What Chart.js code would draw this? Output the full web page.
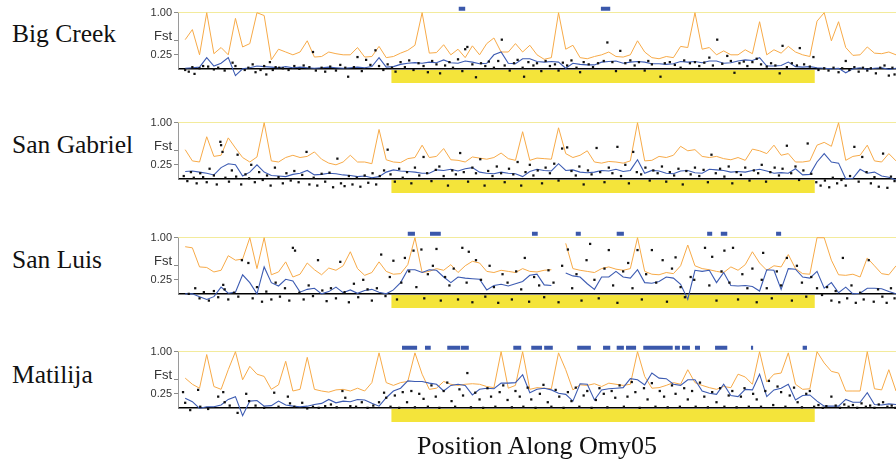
<!DOCTYPE html>
<html>
<head>
<meta charset="utf-8">
<script src="https://cdn.jsdelivr.net/npm/chart.js@4.4.1/dist/chart.umd.min.js"></script>
<style>
  html, body { margin: 0; padding: 0; background: #fff; }
  body { width: 896px; height: 468px; position: relative; overflow: hidden; }
  .panel { position: absolute; left: 0; width: 900px; height: 98px; }
  .name { position: absolute; left: 12px; font-family: "Liberation Serif", "DejaVu Serif", serif; font-size: 25.5px; line-height: 28px; color: #111; white-space: nowrap; }
  #xtitle { position: absolute; left: 537px; top: 431px; transform: translateX(-50%); font-family: "Liberation Serif", "DejaVu Serif", serif; font-size: 26px; line-height: 30px; color: #111; white-space: nowrap; }
</style>
</head>
<body>
<div class="name" style="top:20px">Big Creek</div>
<div class="name" style="top:131px">San Gabriel</div>
<div class="name" style="top:246px">San Luis</div>
<div class="name" style="top:361px">Matilija</div>
<div class="panel" style="top:-4px"><canvas id="p1"></canvas></div>
<div class="panel" style="top:106px"><canvas id="p2"></canvas></div>
<div class="panel" style="top:221px"><canvas id="p3"></canvas></div>
<div class="panel" style="top:335px"><canvas id="p4"></canvas></div>
<div id="xtitle">Position Along Omy05</div>
<script>
// window positions along the chromosome (arbitrary units 0-100)
const positions = Array.from({ length: 101 }, (_, i) => i);

// shaded inversion region and outlier-window level
const regionStart = 29.7, regionEnd = 88.7;
const regionTop = -0.02, regionBottom = -0.25;
const outlierLevel = 1.07;

// tick labels
const tickValues = [0, 0.25, 0.5, 0.58, 1];
const tickText = { 0.25: "0.25", 0.58: "Fst", 1: "1.00" };

// ---- Big Creek ----
const bigCreekOrange = [null,0.52,0.7,0.25,1.0,0.27,0.38,0.25,0.9,0.39,
  0.45,1.0,0.95,0.16,0.35,0.3,0.25,0.3,0.5,0.21,
  0.22,0.3,0.27,0.25,0.25,0.38,0.21,0.22,0.4,0.2,
  0.22,0.28,0.33,0.42,1.0,0.28,0.29,0.43,0.25,0.35,
  0.2,0.41,0.25,0.45,0.55,0.3,0.3,0.45,0.3,0.42,
  0.25,0.17,0.2,1.0,0.35,0.42,0.2,0.18,0.22,0.25,
  0.3,0.22,0.21,0.25,0.5,0.3,0.2,0.18,0.22,0.2,
  0.4,0.38,1.0,0.35,0.38,0.25,0.32,0.25,0.25,0.34,
  0.27,0.84,0.25,0.34,0.28,0.4,0.3,0.25,0.22,0.85,
  1.0,0.5,0.84,0.38,0.24,0.25,0.39,0.28,0.27,0.3,
  0.25];
const bigCreekBlue = [null,0.01,0.02,0.03,0.2,0.05,0.1,0.2,-0.12,0.0,
  0.02,0.05,0.04,0.03,0.02,0.04,0.02,0.03,0.02,0.01,
  0.02,0.03,0.02,0.01,0.02,0.03,0.02,0.04,0.2,0.03,
  0.04,0.08,0.1,0.11,0.1,0.12,0.11,0.16,0.11,0.1,
  0.14,0.12,0.09,0.1,0.25,0.3,0.1,0.09,0.18,0.18,
  0.13,0.12,0.13,0.12,0.01,0.1,0.08,0.07,0.07,0.12,
  0.13,0.14,0.1,0.12,0.13,0.12,0.09,0.09,0.08,0.09,
  0.13,0.12,0.13,0.11,0.14,0.14,0.1,0.11,0.14,0.16,
  0.15,0.2,0.05,0.05,0.06,0.12,0.04,0.03,0.04,0.02,
  0.01,0.0,0.01,-0.07,0.0,0.02,-0.01,0.01,0.02,-0.01,
  0.01];
const bigCreekSnps = [[1,-0.02],[1.5,-0.05],[2,0.03],[2.3,-0.09],[3,0.01],[3.5,0.05],[4.2,0.04],[5,-0.01],[5.6,0.02],[6.5,-0.03],
  [7.6,0.11],[8,0.05],[9.3,-0.02],[9.8,0.02],[10.4,0.08],[10.8,-0.06],[11.5,-0.02],[12,0.05],[12.3,-0.1],[12.8,0.12],
  [13.2,-0.02],[13.6,0.03],[14.1,0.02],[14.6,0.01],[15.4,-0.02],[16.2,0.05],[16.9,0.0],[17.5,0.06],[18.3,0.03],[18.8,0.3],
  [19.2,-0.03],[20,0.02],[20.5,-0.05],[21.2,0.04],[22,-0.03],[22.6,0.07],[23.3,0.02],[23.7,-0.14],[24.5,0.03],[25,0.21],
  [25.6,-0.04],[26.2,0.16],[26.8,0.07],[27.5,0.33],[28,0.05],[28.6,-0.02],[29.2,0.08],[29.8,0.02],[30.3,-0.05],[31,0.12],
  [31.6,0.03],[32.2,0.15],[32.8,-0.02],[33.5,0.1],[34.2,0.05],[34.8,-0.06],[35.4,0.14],[36,0.08],[36.5,-0.08],[37.2,0.06],
  [37.8,0.12],[38.3,0.02],[39,0.17],[39.6,-0.04],[40,0.35],[40.3,0.39],[41,0.08],[41.5,-0.15],[42.2,0.1],[42.8,0.05],
  [43.3,0.13],[44,0.02],[44.6,0.14],[45.1,0.52],[45.5,0.06],[46.2,-0.03],[46.8,0.1],[47.3,0.16],[48,0.02],[48.2,-0.14],
  [48.8,0.12],[49.5,0.06],[50,0.1],[50.6,-0.04],[51.2,0.14],[51.8,0.05],[52.5,0.08],[53,-0.03],[53.6,0.11],[54.2,0.06],
  [54.8,0.15],[55.5,0.02],[56,-0.06],[56.5,0.12],[57.2,0.08],[57.8,0.03],[58.5,0.1],[59.3,0.14],[59.8,0.47],[60.5,0.12],
  [61,-0.04],[61.6,0.32],[62.3,0.1],[63,0.15],[63.6,0.06],[64.2,0.12],[65,-0.03],[65.5,0.14],[66,0.08],[67.2,-0.14],
  [67.8,0.1],[68.5,0.12],[69.2,0.07],[70,0.02],[70.5,0.15],[71.3,0.1],[72,0.12],[72.6,0.05],[73.3,0.11],[74,0.2],
  [74.5,0.06],[75.1,0.52],[75.8,0.09],[76.5,0.23],[77,0.14],[77.5,-0.07],[78.2,0.1],[78.8,0.13],[79.3,0.05],[80,0.12],
  [80.6,0.18],[81.2,0.08],[82,0.04],[82.6,0.1],[83.2,0.06],[83.8,-0.08],[84.2,0.41],[84.8,0.03],[85.5,0.1],[86.2,0.06],
  [86.6,0.37],[87.2,0.08],[88,0.04],[88.5,0.21],[89.2,-0.02],[90,0.01],[90.6,-0.03],[91.3,0.02],[92,-0.06],[92.5,0.01],
  [93,0.14],[93.5,-0.02],[94.2,0.03],[94.8,-0.05],[95.4,0.02],[96,-0.03],[96.5,0.01],[97.2,-0.08],[97.8,0.02],[98.4,0.06],
  [99,-0.12],[99.5,0.02],[99.8,-0.1]];
const bigCreekOutliers = [[39.1,40.0],[58.9,60.2]];

// ---- San Gabriel ----
const sanGabrielOrange = [null,0.52,0.32,0.3,0.75,0.4,0.42,0.73,0.55,0.38,
  0.3,0.39,1.0,0.32,0.3,0.38,0.42,0.38,0.4,0.48,
  0.35,0.28,0.25,0.3,0.42,0.3,0.3,0.27,0.88,0.34,
  0.3,0.29,0.36,0.38,0.6,0.38,0.4,0.54,0.34,0.33,
  0.3,0.39,0.37,0.35,0.38,0.46,0.36,0.33,0.84,0.33,
  0.37,0.36,0.35,0.91,0.45,0.38,0.42,0.5,0.3,0.28,
  0.31,0.3,0.28,0.32,1.0,0.32,0.33,0.4,0.38,0.42,
  0.58,0.5,0.52,0.4,0.38,0.4,0.36,0.34,0.38,0.33,
  0.53,0.5,0.45,0.6,0.42,0.45,0.3,0.3,0.32,0.6,
  0.65,0.58,1.0,0.33,0.4,0.42,0.6,0.32,0.3,0.45,
  0.32];
const sanGabrielBlue = [null,0.13,0.14,0.12,0.1,0.07,0.2,0.27,0.25,0.05,
  0.12,0.25,0.12,0.06,0.05,0.04,0.08,0.1,0.15,0.07,
  0.08,0.1,0.09,0.07,0.06,0.04,0.05,0.02,0.04,0.12,
  0.16,0.14,0.13,0.12,0.1,0.1,0.16,0.15,0.17,0.14,
  0.18,0.2,0.12,0.1,0.09,0.12,0.1,0.09,0.04,0.13,
  0.17,0.15,0.14,0.27,0.15,0.16,0.12,0.11,0.12,0.15,
  0.14,0.17,0.13,0.15,0.34,0.1,0.15,0.14,0.1,0.09,
  0.14,0.15,0.11,0.1,0.17,0.16,0.15,0.12,0.13,0.12,
  0.15,0.17,0.14,0.1,0.11,0.1,0.18,0.07,0.08,0.3,
  0.45,0.3,0.28,0.0,0.01,0.17,0.1,0.12,0.05,0.03,
  -0.02];
const sanGabrielSnps = [[0.8,0.05],[1.3,-0.04],[1.8,0.12],[2.2,0.02],[2.6,-0.08],[3.1,0.1],[3.5,0.03],[4,-0.06],[4.4,0.18],[5,0.06],
  [5.4,-0.1],[5.9,0.66],[6,0.6],[6.2,0.48],[6.6,0.02],[7.1,-0.05],[7.5,0.15],[8.1,0.04],[8.3,0.43],[8.8,-0.1],
  [9.4,0.08],[9.9,0.01],[10.2,0.25],[10.7,-0.06],[11.3,0.12],[11.8,-0.02],[12.4,0.06],[12.9,-0.12],[13.5,0.2],[14,0.03],
  [14.6,-0.08],[15.1,0.1],[15.7,-0.03],[16.2,0.14],[16.8,-0.06],[17.3,0.07],[17.9,0.48],[18.3,-0.1],[18.9,0.02],[19.4,-0.12],
  [20,0.09],[20.5,-0.05],[21.1,0.11],[21.6,-0.15],[22.2,0.36],[22.7,-0.08],[23.2,-0.13],[23.8,0.05],[24.3,-0.1],[24.9,0.02],
  [25.4,-0.14],[26,0.06],[26.5,-0.07],[27.1,0.1],[27.6,-0.1],[28.1,0.05],[28.7,0.15],[29.2,0.52],[29.6,0.08],[30.2,-0.05],
  [30.8,0.18],[31.3,0.02],[31.9,0.12],[32.5,-0.08],[33,0.2],[33.6,0.06],[34.2,0.39],[34.7,0.1],[35.3,-0.04],[35.9,0.16],
  [36.4,0.22],[37,0.05],[37.6,-0.12],[38.2,0.15],[38.7,0.08],[39.3,0.46],[39.8,0.12],[40.4,-0.05],[41,0.2],[41.5,0.1],
  [42.1,0.35],[42.7,-0.12],[43.2,0.14],[43.8,0.05],[44.4,0.22],[45,0.1],[45.5,-0.06],[46.1,0.18],[46.7,0.08],[47.3,0.3],
  [47.8,-0.12],[48.4,0.12],[49,0.25],[49.5,0.06],[50.1,0.15],[50.7,-0.08],[51.2,0.2],[51.8,0.1],[52.4,0.27],[53,-0.03],
  [53.5,0.54],[54.2,0.56],[54.8,0.14],[55.4,0.06],[55.9,0.22],[56.5,-0.1],[57.1,0.15],[57.6,0.08],[58.3,0.55],[58.8,0.12],
  [59.4,-0.06],[60,0.2],[60.5,0.1],[61.2,0.57],[61.7,0.05],[62.3,0.25],[62.8,-0.08],[63.4,0.48],[63.9,0.12],[64.5,0.08],
  [65.1,0.2],[65.7,-0.03],[66.2,0.15],[66.8,0.1],[67.4,0.22],[68,-0.05],[68.5,0.12],[69.1,0.06],[69.7,0.18],[70.3,-0.1],
  [70.8,0.14],[71.4,0.08],[72,0.2],[72.6,0.05],[73.2,0.16],[73.8,-0.06],[74.3,0.43],[74.9,0.1],[75.5,0.18],[76.1,0.04],
  [76.7,0.22],[77.2,-0.08],[77.8,0.12],[78.4,0.07],[79,0.2],[79.6,-0.03],[80.2,0.15],[80.8,0.1],[81.3,0.25],[81.9,-0.05],
  [82.5,0.12],[83.1,0.2],[83.7,0.06],[84.2,0.18],[84.8,0.59],[85.4,0.1],[86,0.22],[86.5,-0.02],[87.1,0.15],[87.7,0.63],
  [88.2,0.09],[88.9,-0.06],[89.5,-0.12],[90.1,-0.03],[90.7,-0.15],[91.2,0.02],[91.8,-0.08],[92.4,-0.02],[93,-0.12],[93.6,0.05],
  [94.2,0.57],[94.8,-0.05],[95.3,0.39],[95.9,0.12],[96.5,-0.08],[97,0.03],[97.6,-0.14],[98.2,0.45],[98.8,-0.16],[99.3,0.04],
  [99.8,-0.04]];
const sanGabrielOutliers = [];

// ---- San Luis ----
const sanLuisOrange = [null,0.84,0.82,0.48,0.47,0.39,0.42,0.68,0.6,0.62,
  1.0,0.45,1.0,0.34,0.39,0.57,0.3,0.35,0.55,0.43,
  0.34,0.46,0.42,0.5,0.75,0.45,0.33,0.38,0.57,0.4,
  0.35,0.36,0.52,1.0,0.38,0.4,0.45,0.42,0.52,0.38,
  0.5,0.58,0.55,0.4,0.38,0.42,0.4,0.38,0.45,0.4,
  0.39,0.42,0.43,null,0.9,0.45,0.42,0.4,0.38,0.45,
  0.48,0.44,0.42,0.45,1.0,0.4,0.35,0.34,0.38,0.36,
  0.5,0.87,0.5,0.45,0.43,0.4,0.38,0.48,0.42,0.52,
  0.75,0.55,0.42,0.5,0.48,0.7,0.45,0.36,0.35,1.0,
  1.0,0.6,0.34,0.33,0.35,0.3,0.64,0.5,0.36,0.34,
  0.5];
const sanLuisBlue = [null,0.0,0.0,-0.05,-0.1,-0.05,0.12,0.01,0.03,0.34,
  0.2,0.0,0.48,0.2,0.14,0.26,0.23,0.03,0.08,0.1,
  0.0,0.04,0.12,0.02,0.07,0.01,0.06,0.08,0.03,0.0,
  0.07,0.2,0.43,0.43,0.38,0.43,0.42,0.3,0.2,0.3,
  0.28,0.27,0.26,0.07,0.15,0.17,0.14,0.18,0.22,0.33,
  0.35,0.16,0.15,null,0.37,0.32,0.3,0.18,0.08,0.3,
  0.3,0.4,0.3,0.28,0.43,0.2,0.19,0.22,0.3,0.28,
  0.17,-0.1,0.42,0.4,0.42,0.2,0.38,0.15,0.14,0.15,
  0.13,0.05,0.43,0.42,0.08,0.45,0.44,0.3,0.28,0.4,
  0.1,0.2,0.02,0.12,0.0,0.01,0.1,0.1,0.09,0.04,
  0.0];
const sanLuisSnps = [[1.5,0.0],[2.4,0.1],[3,-0.08],[3.6,0.03],[4.3,-0.12],[5,0.05],[5.6,-0.06],[6.3,0.16],[6.5,0.08],[7,-0.1],
  [7.8,0.02],[8.4,-0.05],[8.9,0.6],[9.8,0.55],[10.4,-0.08],[11,0.12],[11.7,-0.14],[12.3,0.04],[13,-0.1],[13.6,0.2],
  [14.2,-0.05],[14.9,0.1],[15.5,-0.12],[16,0.82],[16.3,0.77],[16.9,0.02],[17.5,-0.1],[18.2,0.15],[18.8,-0.04],[19.5,0.6],
  [20.1,0.06],[20.7,-0.13],[21.3,0.1],[22,-0.08],[22.6,0.57],[23.2,0.03],[23.8,-0.15],[24.5,0.18],[25.1,-0.06],[25.8,0.25],
  [26.4,0.08],[27,-0.12],[27.7,0.1],[28.3,0.7],[28.9,-0.04],[29.5,0.3],[30,0.59],[30.5,-0.1],[31.1,0.2],[31.6,0.64],
  [32.2,0.4],[32.8,0.77],[33.2,0.12],[33.9,0.79],[34.3,-0.08],[34.8,0.35],[35.5,0.5],[36,0.8],[36.6,-0.12],[37.2,0.3],
  [37.8,0.15],[38.4,0.45],[39,-0.1],[39.6,0.82],[40.2,0.2],[40.5,0.75],[41,-0.15],[41.5,0.6],[42.2,0.25],[42.8,-0.05],
  [43.4,0.5],[44,0.12],[44.6,-0.16],[45.2,0.35],[45.9,0.2],[46.5,-0.1],[47.1,0.4],[47.8,0.08],[48.3,0.64],[48.9,-0.14],
  [49.6,0.3],[50.3,0.15],[51,-0.06],[51.6,0.42],[52.3,0.2],[53,-0.15],[53.5,0.5],[54.3,0.79],[54.9,0.1],[55.5,0.35],
  [56.2,-0.12],[56.9,0.6],[57.4,0.89],[58,0.25],[58.6,-0.08],[59.4,0.45],[60,0.78],[60.6,0.15],[61.2,-0.16],[62,0.4],
  [62.7,0.55],[63.3,0.1],[64,0.78],[64.6,-0.1],[65.2,0.35],[66,0.78],[66.6,0.2],[67.5,0.6],[68.1,-0.14],[68.8,0.45],
  [69.3,0.65],[70,0.12],[70.6,-0.06],[71.4,0.3],[71.9,0.25],[73.4,0.82],[74,0.15],[74.4,0.66],[75,-0.12],[75.7,0.4],
  [76.1,0.77],[76.8,0.2],[77.3,0.82],[78,-0.1],[78.6,0.35],[79.3,0.1],[80,0.45],[80.6,-0.15],[81.3,0.25],[81.5,0.73],
  [82,0.1],[82.7,-0.08],[83.4,0.4],[84,0.15],[84.8,0.64],[85.5,-0.12],[86.2,0.5],[86.9,0.2],[87.5,-0.05],[88.2,0.3],
  [89,0.1],[89.7,-0.02],[90.4,0.12],[91,-0.12],[91.6,0.05],[92.1,-0.15],[92.6,0.64],[93.2,-0.08],[93.8,0.15],[94.4,-0.16],
  [95,0.02],[95.5,-0.1],[96.2,0.6],[96.9,-0.14],[97.5,0.08],[98.1,-0.05],[98.7,-0.16],[99.3,0.1],[99.8,-0.08]];
const sanLuisOutliers = [[32.0,33.0],[35.1,36.6],[49.3,50.1],[55.4,56.1],[61.1,62.1],[73.7,74.4],[75.6,76.5],[83.3,84.0]];

// ---- Matilija ----
const matilijaOrange = [null,0.53,0.42,0.35,0.95,0.38,0.33,0.68,1.0,0.5,
  0.74,0.6,0.56,0.33,0.41,0.83,0.3,0.33,0.9,0.33,
  0.3,0.28,0.32,0.33,0.3,0.35,0.3,0.45,0.98,0.45,
  0.4,0.45,0.47,0.98,0.6,0.33,0.35,0.47,0.42,0.4,
  0.42,0.43,0.42,0.38,0.36,1.0,0.35,0.4,1.0,0.33,
  0.36,0.35,0.34,0.98,0.68,0.32,0.41,0.4,0.43,0.38,
  0.44,0.42,0.4,0.42,1.0,0.56,0.35,0.36,0.4,0.45,
  0.42,0.68,0.45,0.4,0.36,0.33,0.38,0.36,0.6,0.55,
  0.42,1.0,0.46,0.6,0.62,0.98,0.42,0.33,0.34,1.0,
  0.8,0.65,0.62,0.3,0.3,0.3,1.0,0.34,0.32,0.68,
  0.3];
const matilijaBlue = [null,0.17,0.11,-0.01,0.02,0.02,0.05,0.15,0.2,-0.14,
  0.12,0.13,0.03,0.04,0.12,0.05,0.03,0.02,0.03,0.06,
  0.08,0.15,0.09,0.12,0.11,0.15,0.14,0.08,0.03,0.18,
  0.3,0.35,0.48,0.47,0.47,0.44,0.42,0.3,0.4,0.42,
  0.4,0.23,0.33,0.35,0.34,0.44,0.44,0.45,0.59,0.27,
  0.33,0.35,0.32,0.26,0.24,0.12,0.43,0.42,0.14,0.32,
  0.34,0.35,0.36,0.52,0.5,0.41,0.62,0.53,0.52,0.42,
  0.4,0.5,0.5,0.3,0.26,0.24,0.42,0.22,0.2,0.33,
  0.32,0.6,0.2,0.32,0.35,0.42,0.14,0.22,0.23,0.12,
  0.03,0.03,0.03,0.15,0.1,0.1,0.27,0.06,0.05,0.07,
  0.06];
const matilijaSnps = [[0.7,0.28],[1,0.09],[1.7,-0.04],[2.8,0.32],[3.1,0.02],[4.2,-0.02],[5.6,0.2],[6.3,0.28],[6.5,0.1],[7.2,0.04],
  [8.3,-0.09],[9.5,0.25],[9.9,0.12],[10.8,0.04],[12,0.0],[13.4,0.27],[14,0.02],[15.3,0.2],[15.6,0.08],[16.2,0.02],
  [17.3,0.09],[18,-0.01],[18.8,0.02],[19.6,0.0],[20.5,0.03],[21.3,0.06],[22.1,0.01],[22.9,0.3],[23.3,0.18],[24,0.03],
  [24.8,0.02],[25.6,0.1],[26.4,0.0],[27.2,0.04],[28,0.1],[28.7,0.27],[29,0.18],[29.6,0.02],[30.2,0.22],[30.8,0.0],
  [31.3,0.28],[31.9,0.1],[32.5,0.3],[33,0.01],[33.6,0.25],[34.2,0.16],[34.8,0.02],[35.3,0.4],[35.9,0.2],[36.4,0.0],
  [37,0.3],[37.5,0.45],[38.1,0.12],[38.6,0.02],[39.2,0.33],[39.7,0.22],[40.3,0.62],[40.8,0.01],[41.4,0.27],[42,0.15],
  [42.5,0.0],[43.1,0.35],[43.6,0.2],[44.2,0.02],[44.8,0.28],[45.3,0.4],[45.9,0.14],[46.5,0.01],[47,0.3],[47.6,0.2],
  [48.1,0.02],[48.7,0.36],[49.2,0.15],[49.8,0.0],[50.4,0.25],[50.9,0.41],[51.5,0.1],[52,0.02],[52.6,0.32],[53.1,0.2],
  [53.7,0.0],[54.3,0.28],[54.8,0.12],[55.4,0.36],[55.9,0.02],[56.5,0.22],[57,0.3],[57.6,0.0],[58.2,0.14],[58.7,0.35],
  [59.3,0.25],[59.8,0.01],[60.4,0.3],[60.9,0.18],[61.5,0.4],[62.1,0.02],[62.6,0.2],[63.2,0.46],[63.7,0.28],[64.3,0.0],
  [64.9,0.35],[65.4,0.15],[66,0.44],[66.5,0.02],[67.1,0.3],[67.7,0.2],[68.2,0.01],[68.8,0.4],[69.3,0.25],[69.9,0.02],
  [70.5,0.35],[71,0.15],[71.6,0.3],[72.1,0.02],[72.7,0.45],[73.3,0.2],[73.8,0.01],[74.4,0.28],[75,0.1],[75.5,0.35],
  [76.1,0.02],[76.7,0.22],[77.2,0.3],[77.8,0.01],[78.4,0.2],[78.9,0.35],[79.5,0.02],[80.1,0.25],[80.6,0.15],[81.2,0.02],
  [81.8,0.3],[82.3,0.48],[82.9,0.05],[83.5,0.38],[84,0.28],[84.6,0.02],[85.2,0.22],[85.8,0.36],[86.3,0.1],[86.9,0.01],
  [87.5,0.25],[88,0.3],[88.6,0.02],[89.2,0.05],[89.8,0.0],[90.3,0.03],[91,0.2],[91.6,0.04],[92.2,0.0],[92.8,0.06],
  [93.4,0.02],[94,0.05],[94.6,0.0],[95.2,0.08],[95.8,0.02],[96.4,0.04],[97,0.0],[97.6,0.06],[98.2,0.1],[98.8,0.02],
  [99.4,0.04],[99.9,0.0]];
const matilijaOutliers = [[31.2,33.3],[34.4,35.2],[37.5,39.3],[39.4,40.5],[46.7,47.8],[49.2,50.7],[51.0,52.2],[55.6,57.5],
  [59.2,60.2],[61.1,62.1],[62.4,63.8],[64.8,68.9],[69.2,69.9],[70.2,71.3],[72.0,72.7],[74.8,76.5],[79.8,80.1],[87.0,87.6]];

// gray axis stub from 0 to 1
const axisStub = {
  id: 'axisStub',
  beforeDatasetsDraw(chart) {
    const y = chart.scales.y, ctx = chart.ctx, x = chart.chartArea.left + 0.5;
    ctx.save();
    ctx.strokeStyle = '#9a9a9a';
    ctx.lineWidth = 1;
    ctx.beginPath();
    ctx.moveTo(x, y.getPixelForValue(1));
    ctx.lineTo(x, y.getPixelForValue(0));
    ctx.stroke();
    ctx.restore();
  }
};

function series(values) {
  return values.map((v, i) => ({ x: positions[i], y: v }));
}

function windows(blocks) {
  const pts = [];
  blocks.forEach(b => {
    pts.push({ x: b[0], y: outlierLevel }, { x: b[1], y: outlierLevel }, { x: b[1], y: null });
  });
  return pts;
}

function makePanel(id, orange, blue, snps, outliers) {
  new Chart(document.getElementById(id), {
    type: 'line',
    data: {
      datasets: [
        { label: 'SNP Fst', data: snps.map(p => ({ x: p[0], y: p[1] })), showLine: false,
          pointStyle: 'rect', pointRadius: 1.6, pointBackgroundColor: '#111', pointBorderWidth: 0 },
        { label: 'Mean', data: series(blue), borderColor: '#3c5bb2', borderWidth: 1.1,
          pointRadius: 0, tension: 0, spanGaps: false },
        { label: 'Upper', data: series(orange), borderColor: '#f7aa48', borderWidth: 1,
          pointRadius: 0, tension: 0, spanGaps: false },
        { label: 'Region', data: [{ x: regionStart, y: regionTop }, { x: regionEnd, y: regionTop }],
          borderWidth: 0, pointRadius: 0, backgroundColor: '#f4e43a', fill: { value: regionBottom } },
        { label: 'Outlier windows', data: windows(outliers), borderColor: '#3b58ab', borderWidth: 4,
          borderCapStyle: 'butt', pointRadius: 0, spanGaps: false }
      ]
    },
    options: {
      responsive: true,
      maintainAspectRatio: false,
      animation: false,
      layout: { padding: { top: 10, bottom: 10, left: 0, right: 0 } },
      plugins: { legend: { display: false }, tooltip: { enabled: false } },
      scales: {
        x: { type: 'linear', min: 0, max: 100, display: false },
        y: {
          type: 'linear', min: -0.27, max: 1.12,
          afterBuildTicks: axis => { axis.ticks = tickValues.map(v => ({ value: v })); },
          afterFit: axis => { axis.width = 178; },
          border: { display: false },
          grid: {
            color: c => c.tick.value === 0 ? '#000' : (c.tick.value === 1 ? '#f3eb9c' : 'rgba(0,0,0,0)'),
            lineWidth: c => c.tick.value === 0 ? 1.6 : 1,
            tickColor: c => (c.tick.value === 0 || c.tick.value === 0.58) ? 'rgba(0,0,0,0)' : '#8a8a8a',
            tickLength: 4
          },
          ticks: {
            autoSkip: false,
            padding: 2,
            color: '#333',
            font: c => (c.tick && c.tick.value === 0.58)
              ? { family: '"Liberation Sans", Arial, sans-serif', size: 13 }
              : { family: '"Liberation Sans", Arial, sans-serif', size: 11 },
            callback: v => tickText[v] || ''
          }
        }
      }
    },
    plugins: [axisStub]
  });
}

makePanel('p1', bigCreekOrange, bigCreekBlue, bigCreekSnps, bigCreekOutliers);
makePanel('p2', sanGabrielOrange, sanGabrielBlue, sanGabrielSnps, sanGabrielOutliers);
makePanel('p3', sanLuisOrange, sanLuisBlue, sanLuisSnps, sanLuisOutliers);
makePanel('p4', matilijaOrange, matilijaBlue, matilijaSnps, matilijaOutliers);
</script>
</body>
</html>
